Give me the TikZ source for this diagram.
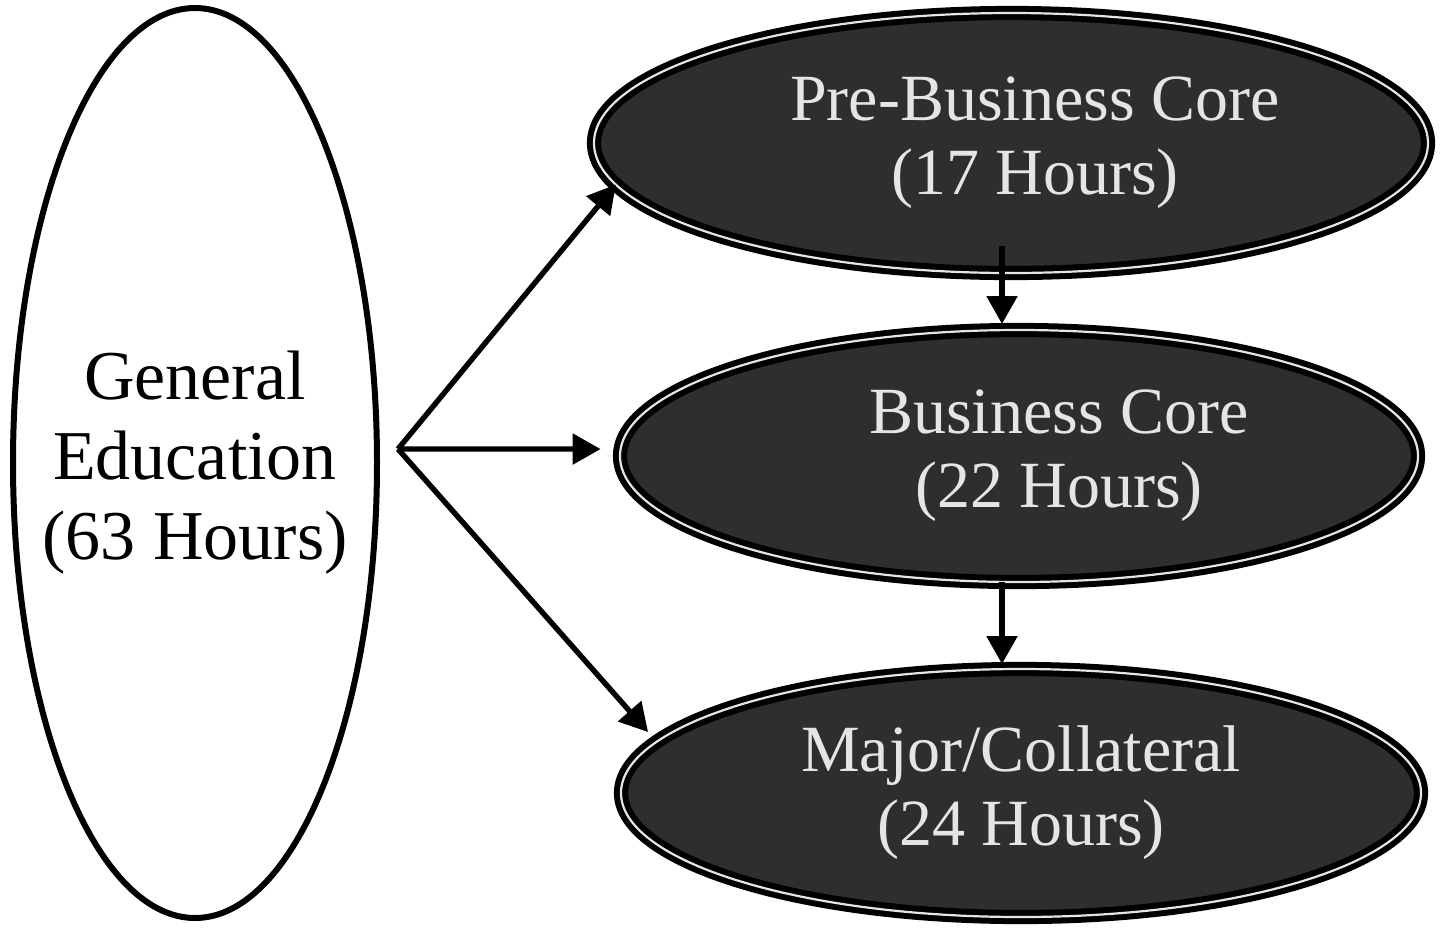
\documentclass[tikz,border=0pt]{standalone}
\usepackage{fontspec}
\setmainfont{Liberation Serif}
\usetikzlibrary{shapes.geometric,arrows.meta}
\tikzset{stage/.style={
        ellipse,
        draw=black,
        line width=3pt,
        fill=white,
        inner sep=0pt,
        align=center,
        outer sep=0pt,
        font=\fontsize{35}{40}\selectfont},
        %
        dstage/.style={
            stage,
            line width=3pt,
            double=black!10,
            double distance=1.1pt,
            fill=black!82,
            text=black!10,
            font=\fontsize{33}{37}\selectfont}
        }
\def\lwarr{2.7pt}

\begin{document}
\begin{tikzpicture}[x=0.5pt,y=-0.5pt,
                link/.style={draw=black,line width=\lwarr,-{Triangle[length=14pt,width=15pt]}}
                ]
\useasboundingbox (0,0) rectangle (1445,928);

\node[stage,inner xsep=-16pt,minimum width=182pt,minimum height=455pt] (A) at (195,463)
    {General\\Education\\(63 Hours)};

\node[dstage,minimum width=417pt,minimum height=130pt] (B1) at (1011,143)
    {\hspace*{24pt}Pre-Business Core\\\hspace*{24pt}(17 Hours)};
\node[dstage,minimum width=399pt,minimum height=126pt] (B2) at (1019,456)
    {\hspace*{40pt}Business Core\\\hspace*{40pt}(22 Hours)};
\node[dstage,minimum width=400pt,minimum height=124pt] (B3) at (1021,793)
    {Major/Collateral\\(24 Hours)};

\coordinate (F) at (398,449);

\draw[link] (F) -- (B1.186);
\draw[link,shorten >=10pt] (F) -- (B2.179);
\draw[link,shorten >=6.5pt] (F) -- (B3.172);

\draw[link] ([shift={(-9,-27)}]B1.south) -- ([shift={(-17,-6)}]B2.north);
\draw[link] ([shift={(-17,0)}]B2.south) -- ([shift={(-19,-5)}]B3.north);
\end{tikzpicture}
\end{document}
